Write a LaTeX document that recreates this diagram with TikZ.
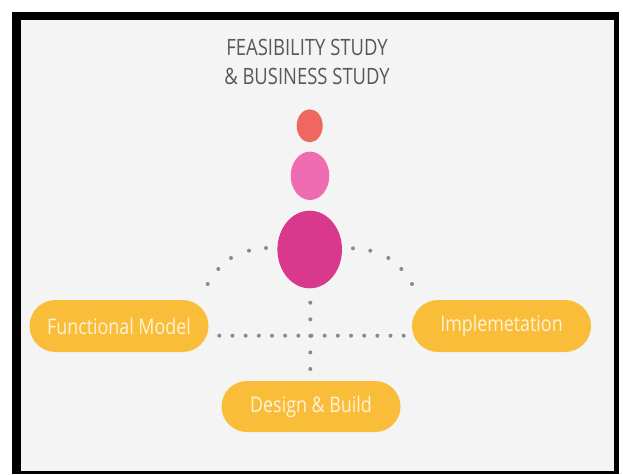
\documentclass[tikz,border=0pt]{standalone}
\usepackage{fontspec}
\usepackage{tikz}
\usetikzlibrary{shapes.geometric,shapes.misc}
\newfontfamily\osans[FakeStretch=0.82]{Open Sans}
\newfontfamily\osanspill[FakeStretch=0.83]{Open Sans}
\definecolor{bggray}{RGB}{244,244,244}
\definecolor{pillyellow}{RGB}{250,189,58}
\definecolor{pilltext}{RGB}{255,243,214}
\definecolor{dotgray}{RGB}{138,138,138}
\definecolor{titlegray}{RGB}{88,88,88}
\definecolor{coral}{RGB}{239,104,96}
\definecolor{lightpink}{RGB}{240,108,178}
\definecolor{magenta}{RGB}{216,57,140}

\begin{document}
\begin{tikzpicture}[x=1pt,y=-1pt,
  pill/.style={rounded rectangle,fill=pillyellow,text=pilltext,minimum width=179pt,
    minimum height=52pt,inner sep=0pt,font=\osanspill\fontsize{21.5}{26}\selectfont},
  blob/.style={ellipse,inner sep=0pt},
  dotline/.style={dotgray,line width=4pt,line cap=round,dash pattern=on 0pt off #1}]
\useasboundingbox (0,0) rectangle (623,474);
\fill[white] (0,0) rectangle (623,474);
\fill[black] (12,12) rectangle (619,474);
\fill[bggray] (21,20) rectangle (614,471);
% title
\node[text=titlegray,align=center,font=\osans\fontsize{22.5}{29.5}\selectfont] (title) at (307,62)
  {FEASIBILITY STUDY\\\& BUSINESS STUDY};
% circles
\node[blob,fill=coral,minimum width=26pt,minimum height=33pt] (c1) at (309.7,125.8) {};
\node[blob,fill=lightpink,minimum width=38.6pt,minimum height=48.4pt] (c2) at (310,175.8) {};
\node[blob,fill=magenta,minimum width=64.6pt,minimum height=77.6pt] (c3) at (309.7,249.5) {};
% phases
\node[pill] (fm) at (119,326) {Functional Model};
\node[pill] (im) at (501.5,326) {Implemetation};
\node[pill,minimum height=51pt] (db) at (311,406.5) {Design \& Build};
% dotted lines
\coordinate (hl) at (219.3,335.7);
\coordinate (hr) at (403.7,335.7);
\coordinate (vt) at (310.3,302.7);
\coordinate (vb) at (310.3,369);
\draw[dotline=13.17pt] (hl) -- (hr);
\draw[dotline=16.575pt] (vt) -- (vb);
\foreach \p in {(207.7,284),(218.3,269),(231,258),(249,250.7),(266,248),
  (353,248.3),(370.3,250.7),(388.3,258),(401.3,269),(412,284)}
\fill[dotgray] \p circle (2pt);
\end{tikzpicture}
\end{document}
